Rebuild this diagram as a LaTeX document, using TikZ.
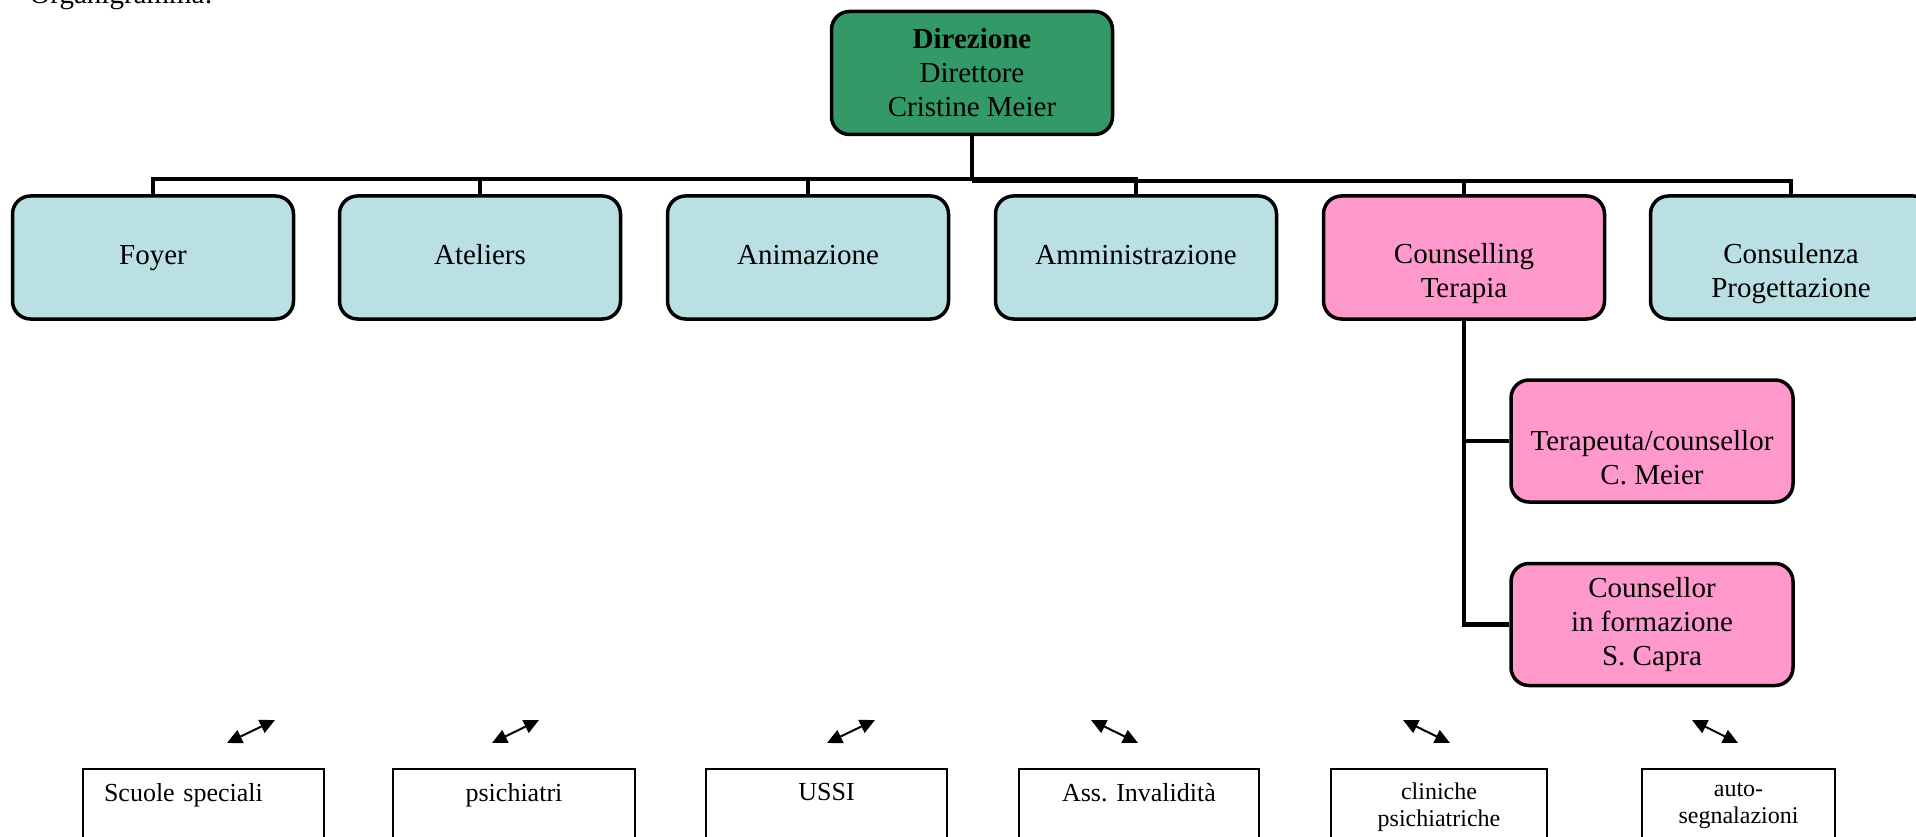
\documentclass[tikz,border=0pt]{standalone}
\usepackage{fontspec}
\setmainfont{Liberation Serif}
\usepackage{xcolor}
\usetikzlibrary{arrows.meta,positioning}

\definecolor{verde}{HTML}{339966}
\definecolor{azzurro}{HTML}{BAE0E3}
\definecolor{rosa}{HTML}{FF99CC}

\tikzset{
 ufficio/.style={draw,line width=3.5pt,rounded corners=18pt,fill=azzurro,
  minimum width=281pt,minimum height=123pt,align=center,
  font=\fontsize{29}{34}\selectfont},
 riga/.style={text height=20pt,text depth=6pt},
 ente/.style={draw,line width=2pt,anchor=north,align=center,inner ysep=14pt,
  text depth=60pt,font=\fontsize{26}{30}\selectfont},
 ramo/.style={line width=4.5pt},
 freccia/.style={line width=2pt,{Triangle[length=15pt,width=14pt]}-{Triangle[length=15pt,width=14pt]}}
}
\newcommand{\primariga}{\vphantom{D}\\}

\begin{document}
\begin{tikzpicture}[x=1pt,y=-1pt]
\useasboundingbox (0,0) rectangle (1916,837);

\node[anchor=base west,font=\fontsize{29}{34}\selectfont] (titolo) at (26,4) {Organigramma:};

%direzione
\node[ufficio,fill=verde] (dir) at (972,73) {\textbf{Direzione}\\Direttore\\Cristine Meier};

%reparti
\def\yr{257.5}
\node[ufficio,riga] (foyer) at (153,\yr) {Foyer};
\node[ufficio,riga] (ateliers) at (480,\yr) {Ateliers};
\node[ufficio,riga] (anim) at (808,\yr) {Animazione};
\node[ufficio,riga] (amm) at (1136,\yr) {Amministrazione};
\node[ufficio,fill=rosa] (couns) at (1464,\yr) {\primariga Counselling\\Terapia};
\node[ufficio] (consul) at (1791,\yr) {\primariga Consulenza\\Progettazione};

%counselling
\node[ufficio,fill=rosa,minimum width=282pt,minimum height=122pt] (terap) at (1652,441) {\primariga Terapeuta/counsellor\\C. Meier};
\node[ufficio,fill=rosa,minimum width=282pt,minimum height=122pt] (cform) at (1652,624.5) {Counsellor\\in formazione\\S. Capra};

%rami
\draw[ramo] (dir.south) -- ++(0,43) coordinate (bus);
\foreach \n in {foyer,ateliers,anim,amm}
 \draw[ramo] (\n.north) |- (bus);
\foreach \n in {couns,consul}
 \draw[ramo] (\n.north) |- ([yshift=-2pt]bus);
\draw[ramo] (couns.south) |- (cform.west);
\draw[ramo] (couns.south |- terap.west) -- (terap.west);

%enti esterni
\node[ente,anchor=north west,inner xsep=21pt,text width=199pt,align=left] (scuole) at (82,768) {Scuole speciali};
\node[ente,minimum width=242pt] (psich) at (514,768) {psichiatri};
\node[ente,minimum width=241pt] (ussi) at (826.5,768) {USSI};
\node[ente,minimum width=240pt] (ai) at (1139,768) {Ass. Invalidità};
\node[ente,minimum width=216pt,font=\fontsize{24}{27}\selectfont] (cliniche) at (1439,768) {cliniche\\psichiatriche};
\node[ente,minimum width=193pt,font=\fontsize{24}{27}\selectfont] (auto) at (1738.5,768) {auto-\\segnalazioni};

%frecce
\foreach \xa/\ya/\xb/\yb [count=\i] in {227/743/275/720,492/743/539/720,827/743/875/720,1091/720/1138/743,1403/720/1450/743,1692/720/1738/743}
{
 \coordinate (p\i) at (\xa,\ya);
 \coordinate (q\i) at (\xb,\yb);
 \draw[freccia] (p\i) -- (q\i);
}

\end{tikzpicture}
\end{document}
